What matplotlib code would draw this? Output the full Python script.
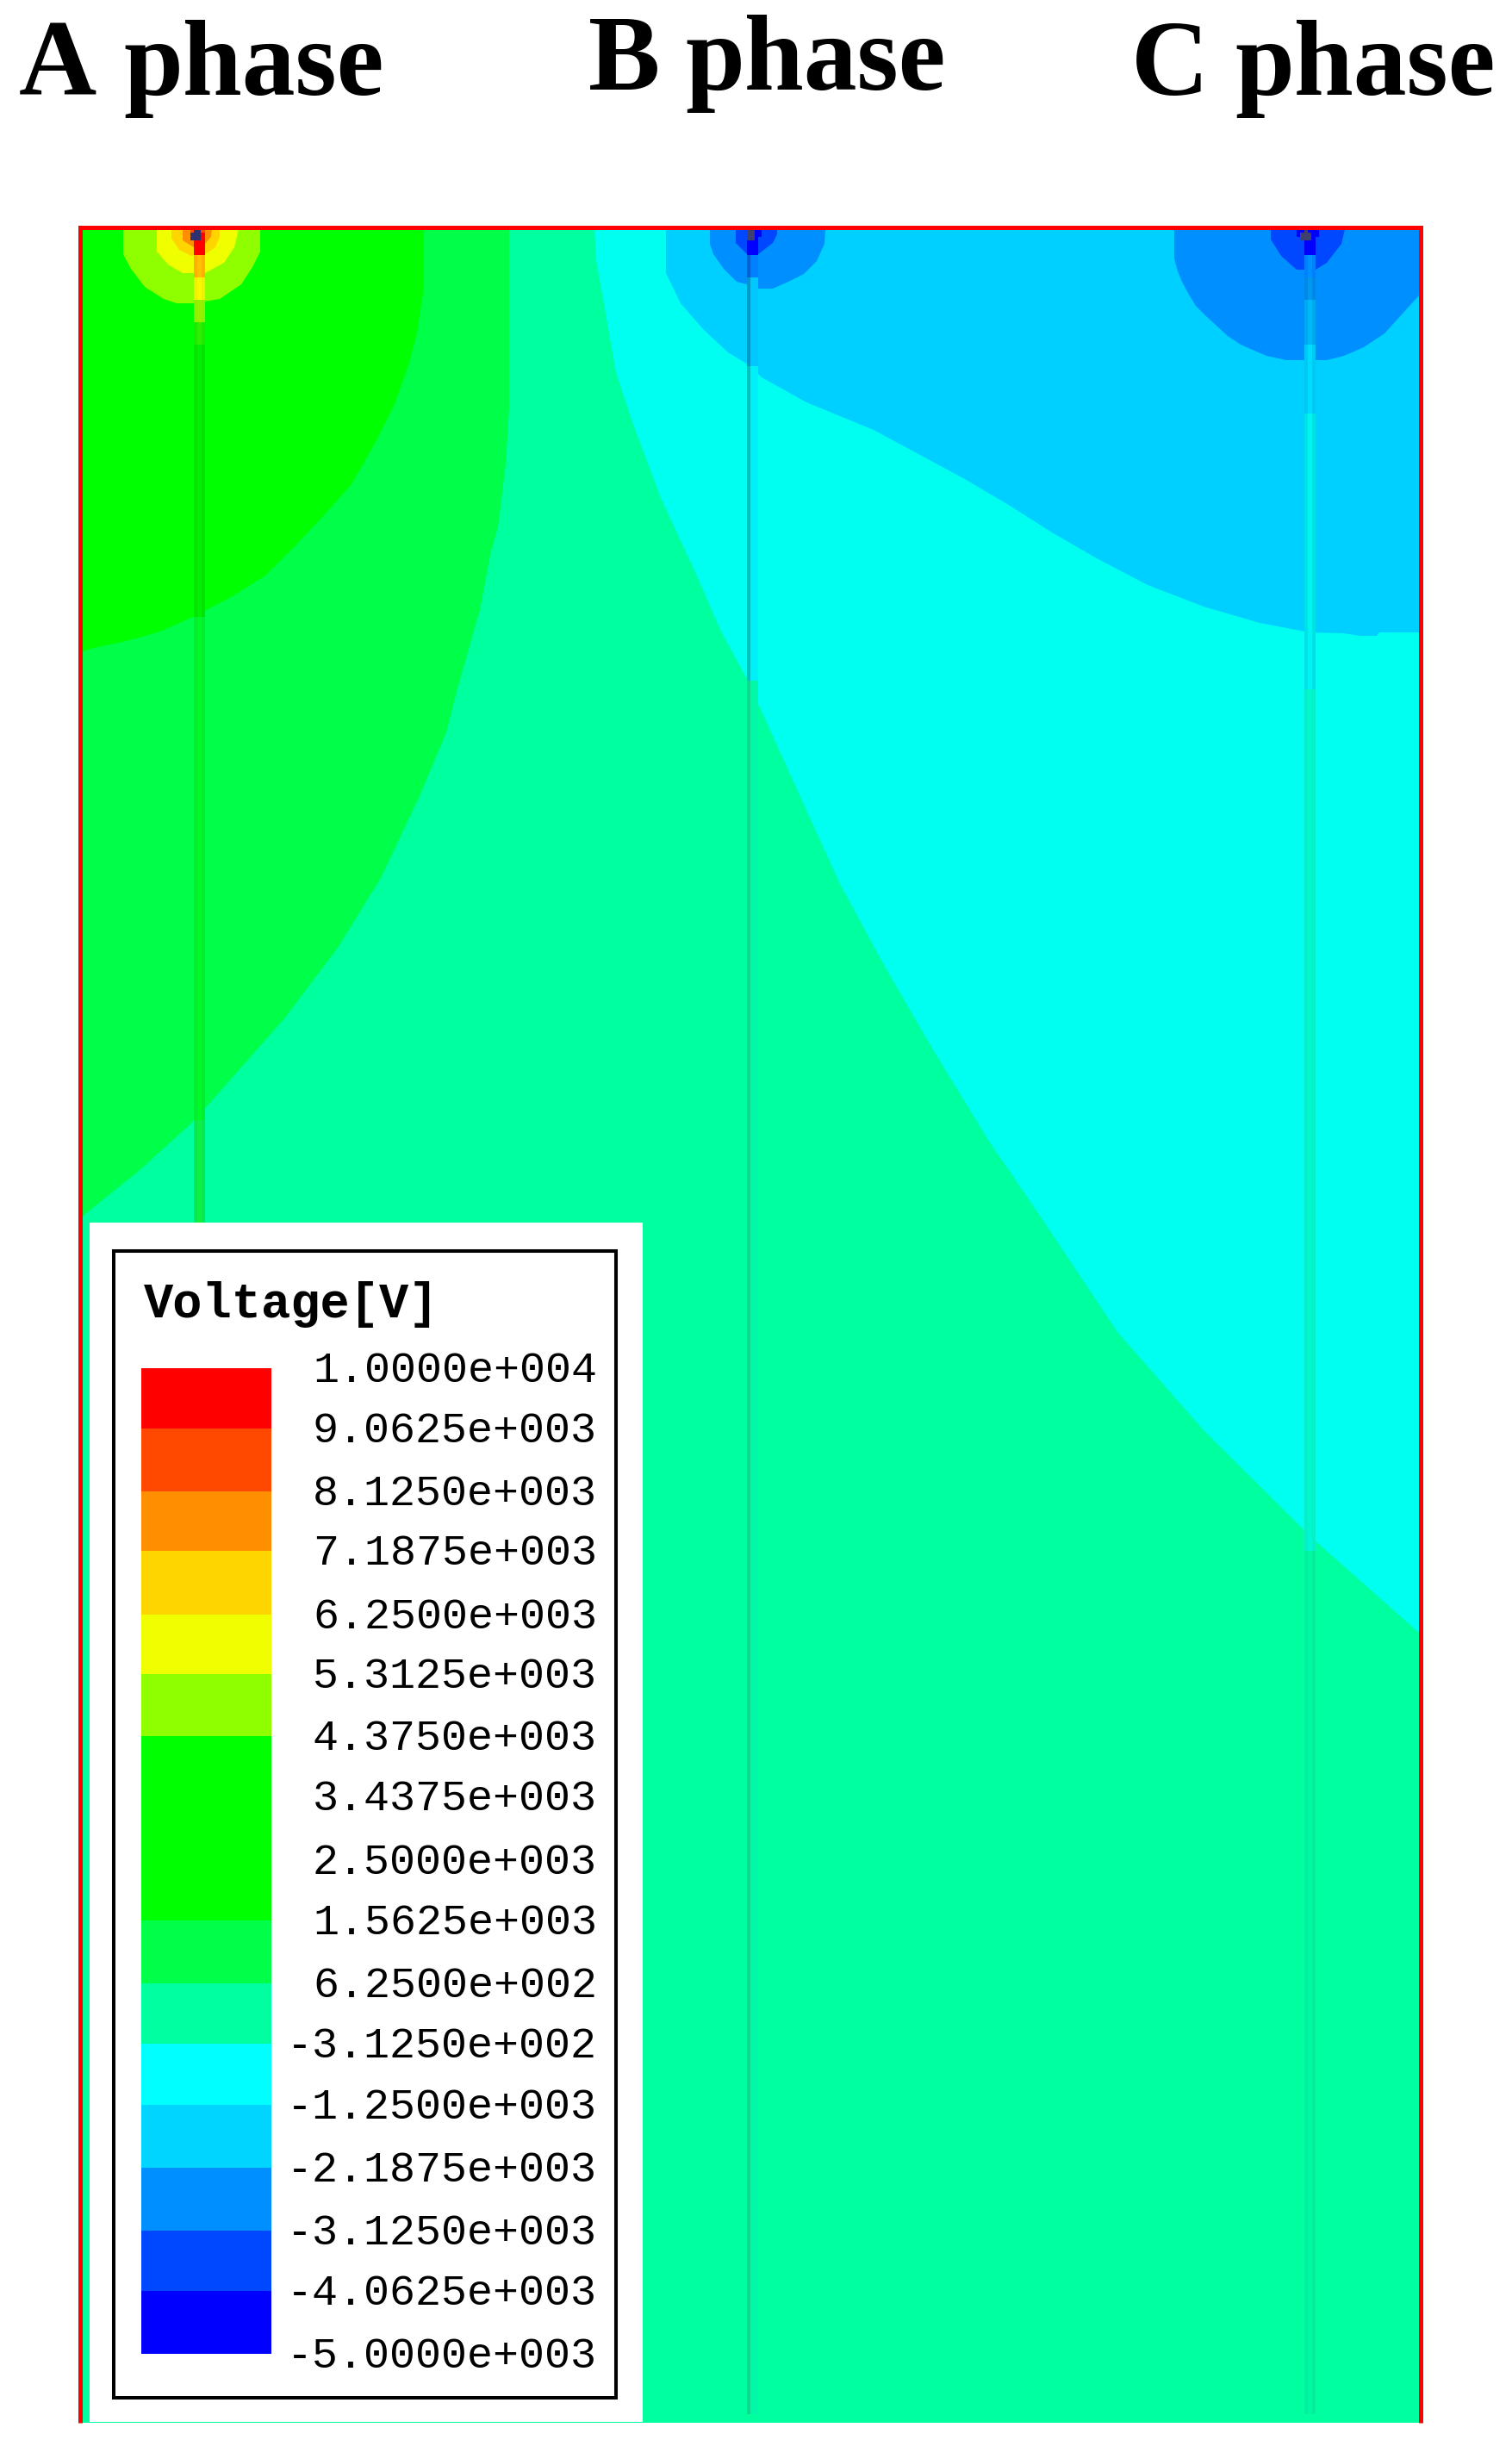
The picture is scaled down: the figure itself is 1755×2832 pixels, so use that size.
import matplotlib
matplotlib.use('Agg')
import matplotlib.pyplot as plt
from matplotlib.patches import Rectangle

# Contour bands, top to bottom of the legend
legend_labels = ['1.0000e+004', '9.0625e+003', '8.1250e+003', '7.1875e+003', '6.2500e+003',
                 '5.3125e+003', '4.3750e+003', '3.4375e+003', '2.5000e+003', '1.5625e+003',
                 '6.2500e+002', '-3.1250e+002', '-1.2500e+003', '-2.1875e+003', '-3.1250e+003',
                 '-4.0625e+003', '-5.0000e+003']
band_colors = ['#ff0000', '#ff4800', '#ff8f00', '#ffd500', '#f0ff00', '#8fff00', '#00ff00', '#00ff00',
               '#00ff00', '#00ff48', '#00ff9f', '#00ffff', '#00d5ff', '#008fff', '#0048ff', '#0000ff']
legend_edges = [1588, 1658, 1731, 1800, 1874, 1943, 2015, 2085, 2159, 2229, 2302, 2372, 2443, 2516,
                2589, 2659, 2732]

phase_letters = ['A', 'B', 'C']
phase_word = 'phase'
letter_x = [22, 683, 1313]
word_x = [143, 795, 1433]
phase_y = [110, 104, 110]

# Contour edges (x, y in image pixels)
green48_edge = [(591, 266), (591, 474), (587, 539), (578, 612), (570, 639), (565, 666), (557, 708), (543, 757),
                (530, 803), (518, 850), (487, 924), (442, 1019), (392, 1100), (331, 1181), (271, 1249),
                (226, 1300), (160, 1360), (100, 1408), (96, 1412)]
green00_edge = [(492, 266), (492, 335), (484, 386), (475, 421), (458, 469), (436, 513), (408, 562), (377, 597),
                (343, 633), (308, 668), (270, 692), (226, 715), (186, 733), (147, 744), (109, 752), (96, 756)]
cyan_edge = [(690, 266), (692, 302), (715, 432), (734, 490), (767, 578), (806, 662), (838, 735), (867, 788),
             (895, 850), (935, 938), (975, 1026), (1026, 1120), (1081, 1215), (1147, 1323), (1207, 1411),
             (1297, 1546), (1398, 1661), (1524, 1786), (1647, 1895)]
sky_edge = [(773, 266), (773, 317), (790, 352), (816, 382), (845, 409), (871, 425), (884, 438), (936, 467),
            (1014, 499), (1079, 534), (1118, 555), (1169, 585), (1221, 618), (1273, 648), (1332, 679),
            (1397, 704), (1462, 723), (1520, 734), (1559, 735), (1579, 738), (1598, 738), (1601, 734), (1647, 734)]

a_rings = [
    ('#8fff00', [(143, 266), (143, 295), (152, 312), (168, 333), (190, 347), (205, 352), (225, 352), (255, 347),
                 (280, 330), (293, 310), (302, 292), (302, 266)]),
    ('#f0ff00', [(182, 266), (182, 292), (195, 307), (212, 317), (225, 317), (238, 317), (260, 305), (272, 287),
                 (277, 266)]),
    ('#ffd500', [(199, 266), (199, 277), (208, 290), (222, 297), (238, 295), (250, 287), (255, 275), (255, 266)]),
    ('#ff8f00', [(212, 266), (212, 279), (225, 287), (238, 283), (245, 275), (246, 266)]),
    ('#ff4800', [(221, 266), (221, 279), (238, 279), (238, 266)]),
    ('#ff0000', [(225, 270), (225, 296), (238, 296), (238, 270)]),
    ('#303070', [(225, 266), (225, 270), (221, 270), (221, 279), (233, 279), (233, 266)]),
]
b_rings = [
    ('#008fff', [(824, 266), (824, 283), (828, 295), (840, 312), (855, 327), (867, 330), (880, 335), (897, 335),
                 (915, 327), (933, 318), (948, 303), (957, 283), (958, 266)]),
    ('#0048ff', [(854, 266), (854, 282), (867, 295), (880, 295), (897, 282), (902, 272), (902, 266)]),
    ('#0000ff', [(867, 266), (867, 296), (880, 296), (880, 275), (884, 275), (884, 266)]),
    ('#404070', [(867, 266), (867, 279), (876, 279), (876, 266)]),
]
c_rings = [
    ('#008fff', [(1363, 266), (1363, 300), (1367, 315), (1372, 327), (1380, 342), (1388, 355), (1400, 367),
                 (1412, 378), (1425, 390), (1440, 400), (1470, 413), (1493, 418), (1540, 418), (1560, 413),
                 (1583, 403), (1607, 387), (1627, 365), (1647, 343), (1647, 266)]),
    ('#0048ff', [(1475, 266), (1475, 278), (1487, 297), (1505, 313), (1527, 313), (1540, 305), (1557, 283),
                 (1561, 266)]),
    ('#0000ff', [(1505, 266), (1505, 275), (1514, 275), (1514, 296), (1527, 296), (1527, 275), (1531, 275),
                 (1531, 266)]),
    ('#404070', [(1514, 266), (1514, 270), (1509, 270), (1509, 279), (1522, 279), (1522, 270), (1518, 270),
                 (1518, 266)]),
]

# Wire strips: y edges, base colour, accent colour
a_strip_y = [296, 322, 348, 374, 400, 716, 1300, 1419]
a_strip_base = ['#ffb000', '#f0f000', '#90ee00', '#20e800', '#00e400', '#00f030', '#08e850']
a_strip_accent = ['#ffc000', '#f8f800', '#98f000', '#30ee00', '#00f000', '#00fa28', '#10f040']
b_strip_y = [296, 322, 425, 790, 2802]
b_strip_base = ['#0080ff', '#00c8ff', '#00f0f8', '#00f8a8']
b_strip_accent = ['#0060d8', '#0098c8', '#00c0c0', '#10d890']
c_strip_y = [296, 322, 348, 400, 480, 800, 1800, 2802]
c_strip_base = ['#0080ff', '#0088e8', '#00a8f0', '#00c8f5', '#00e0e8', '#08eec8', '#00f0a0']
c_strip_accent = ['#0090ff', '#0098f0', '#00b8f8', '#00dcff', '#00f4f0', '#00f8d0', '#00f8a0']

x0, x1 = 96, 1647
y0, y1 = 266, 2812

fig = plt.figure(figsize=(17.55, 28.32), dpi=100)
ax = fig.add_axes([0, 0, 1, 1])
ax.set_xlim(0, 1755)
ax.set_ylim(2832, 0)
ax.axis('off')


def poly(points, color, z=2):
    xs = [p[0] for p in points]
    ys = [p[1] for p in points]
    ax.fill(xs, ys, color=color, lw=0, zorder=z)


# Field, the cyan is dithered in the original so it reads a bit greener than the legend swatch
poly([(x0, y0), (x1, y0), (x1, y1), (x0, y1)], '#00ff9f', 1)
poly(green48_edge + [(x0, y0)], '#00ff48')
poly(green00_edge + [(x0, y0)], '#00ff00')
poly(cyan_edge + [(x1, y0)], '#00fff0')
poly(sky_edge + [(x1, y0)], '#00d0ff')
for color, pts in a_rings + b_rings + c_rings:
    poly(pts, color, 3)

# Wires
strips = [(a_strip_y, a_strip_base, a_strip_accent, 225, 13, 229, 5),
          (b_strip_y, b_strip_base, b_strip_accent, 867, 13, 867, 4),
          (c_strip_y, c_strip_base, c_strip_accent, 1514, 13, 1518, 5)]
for ys, base, accent, bx, bw, ax_x, ax_w in strips:
    for i in range(len(base)):
        ax.bar(bx, ys[i+1] - ys[i], bw, bottom=ys[i], align='edge', color=base[i], lw=0, zorder=4)
        ax.bar(ax_x, ys[i+1] - ys[i], ax_w, bottom=ys[i], align='edge', color=accent[i], lw=0, zorder=4)

# Red outline, open at the bottom
ax.plot([93.5, 93.5, 1649.5, 1649.5], [2812, 264, 264, 2812], color='#ff0000', lw=3.6,
        solid_joinstyle='miter', solid_capstyle='butt', zorder=5)

# Legend
ax.add_patch(Rectangle((104, 1419), 642, 1392, fc='white', ec='none', zorder=6))
ax.add_patch(Rectangle((132, 1452), 583, 1331, fc='none', ec='black', lw=2.9, zorder=7))
ax.text(167, 1514, 'Voltage[V]', family='Liberation Mono', weight='bold', fontsize=41,
        ha='left', va='center', zorder=7)
for i, c in enumerate(band_colors):
    ax.bar(164, legend_edges[i+1] - legend_edges[i], 151, bottom=legend_edges[i], align='edge',
           color=c, lw=0, zorder=7)
for lab, y in zip(legend_labels, legend_edges):
    ax.text(693, y - 2, lab, family='Liberation Mono', fontsize=36, ha='right', va='center_baseline', zorder=7)

for letter, lx, wx, y in zip(phase_letters, letter_x, word_x, phase_y):
    ax.text(lx, y, letter, family='Liberation Serif', weight='bold', fontsize=90, ha='left', va='baseline')
    ax.text(wx, y, phase_word, family='Liberation Serif', weight='bold', fontsize=89, ha='left', va='baseline')

fig.savefig('out.png', dpi=100, facecolor='white')
